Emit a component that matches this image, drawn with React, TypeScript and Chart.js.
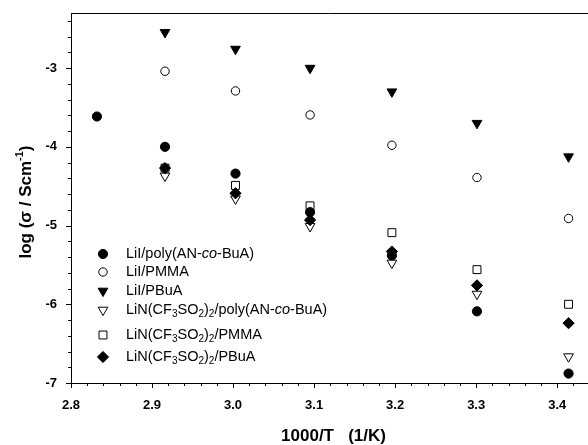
import React, { useEffect, useRef } from 'react';
import Chart from 'chart.js/auto';
import { drawPoint } from 'chart.js/helpers';

// 1000/T (1/K)
const invT = [2.832, 2.916, 3.003, 3.095, 3.196, 3.301, 3.414];
// log(sigma / S cm^-1)
const liIPolyAN = [-3.615, -4.0, -4.34, -4.83, -5.38, -6.09, -6.88];
const liIPMMA = [null, -3.04, -3.29, -3.595, -3.98, -4.39, -4.91];
const liIPBuA = [null, -2.546, -2.758, -3.0, -3.3, -3.7, -4.125];
const liNPolyAN = [null, -4.37, -4.66, -5.01, -5.475, -5.87, -6.665];
const liNPMMA = [null, -4.27, -4.49, -4.75, -5.09, -5.56, -6.0];
const liNPBuA = [null, -4.27, -4.59, -4.93, -5.33, -5.76, -6.24];

const seriesNames = [
  'LiI/poly(AN-*co*-BuA)',
  'LiI/PMMA',
  'LiI/PBuA',
  'LiN(CF_3SO_2)_2/poly(AN-*co*-BuA)',
  'LiN(CF_3SO_2)_2/PMMA',
  'LiN(CF_3SO_2)_2/PBuA',
];
const seriesValues = [liIPolyAN, liIPMMA, liIPBuA, liNPolyAN, liNPMMA, liNPBuA];

const xTickValues = [2.8, 2.9, 3.0, 3.1, 3.2, 3.3, 3.4];
const yTickValues = [-7, -6, -5, -4, -3];
const xTitle = '1000/T   (1/K)';
const yTitleMain = 'log (σ / Scm';
const yTitleSup = '-1';
const yTitleEnd = ')';

const markerStyles = [
  { pointStyle: 'circle', rotation: 0, radius: 4.6, filled: true },
  { pointStyle: 'circle', rotation: 0, radius: 4.2, filled: false },
  { pointStyle: 'triangle', rotation: 180, radius: 5.6, filled: true },
  { pointStyle: 'triangle', rotation: 180, radius: 5.6, filled: false },
  { pointStyle: 'rect', rotation: 0, radius: 5.6, filled: false },
  { pointStyle: 'rectRot', rotation: 0, radius: 5.6, filled: true },
];

const FONT = 'Arial, "Liberation Sans", sans-serif';

function parseRich(s: string) {
  const segs: { t: string; sub: boolean; it: boolean }[] = [];
  let it = false;
  let buf = '';
  const flush = () => {
    if (buf) segs.push({ t: buf, sub: false, it });
    buf = '';
  };
  for (let i = 0; i < s.length; i++) {
    const c = s[i];
    if (c === '*') {
      flush();
      it = !it;
    } else if (c === '_') {
      flush();
      segs.push({ t: s[i + 1], sub: true, it });
      i++;
    } else buf += c;
  }
  flush();
  return segs;
}

const framePlugin = {
  id: 'frame',
  afterDraw(chart: any) {
    const { ctx, chartArea: a, scales } = chart;
    const x = scales.x;
    const y = scales.y;
    ctx.save();
    ctx.strokeStyle = '#000';
    ctx.lineWidth = 1;
    ctx.beginPath();
    ctx.moveTo(a.left, a.top + 0.5);
    ctx.lineTo(a.right, a.top + 0.5);
    // x ticks
    for (let i = 0; ; i++) {
      const v = x.min + i * 0.02;
      if (v > x.max + 1e-9) break;
      const px = Math.round(x.getPixelForValue(v)) + 0.5;
      const major = Math.abs(v * 10 - Math.round(v * 10)) < 1e-6;
      ctx.moveTo(px, a.bottom);
      ctx.lineTo(px, a.bottom + (major ? 5 : 3));
    }
    // y ticks
    for (let i = 0; ; i++) {
      const v = y.min + i * 0.2;
      if (v > y.max + 1e-9) break;
      const py = Math.round(y.getPixelForValue(v)) + 0.5;
      const major = Math.abs(v - Math.round(v)) < 1e-6;
      ctx.moveTo(a.left, py);
      ctx.lineTo(a.left - (major ? 5 : 3), py);
    }
    ctx.stroke();

    // axis titles
    ctx.fillStyle = '#000';
    ctx.textBaseline = 'middle';
    ctx.font = `bold 17px ${FONT}`;
    ctx.textAlign = 'center';
    ctx.fillText(xTitle, (a.left + a.right) / 2 + 4, 436);

    ctx.save();
    ctx.translate(26, 202);
    ctx.rotate(-Math.PI / 2);
    ctx.textAlign = 'left';
    ctx.font = `bold 17px ${FONT}`;
    const w1 = ctx.measureText(yTitleMain).width;
    const w3 = ctx.measureText(yTitleEnd).width;
    ctx.font = `bold 11px ${FONT}`;
    const w2 = ctx.measureText(yTitleSup).width;
    let sx = -(w1 + w2 + w3) / 2;
    ctx.font = `bold 17px ${FONT}`;
    ctx.fillText(yTitleMain, sx, 0);
    sx += w1;
    ctx.font = `bold 11px ${FONT}`;
    ctx.fillText(yTitleSup, sx, -6);
    sx += w2;
    ctx.font = `bold 17px ${FONT}`;
    ctx.fillText(yTitleEnd, sx, 0);
    ctx.restore();

    // legend
    const rowY = [254, 272, 291, 310, 335, 357];
    const markerX = 103;
    const textX = 126;
    seriesNames.forEach((name, i) => {
      const m = markerStyles[i];
      const yy = rowY[i];
      ctx.fillStyle = m.filled ? '#000' : '#fff';
      ctx.strokeStyle = '#000';
      ctx.lineWidth = 1;
      drawPoint(ctx, { pointStyle: m.pointStyle, rotation: m.rotation, radius: m.radius, borderWidth: 1 }, markerX, yy);
      let tx = textX;
      ctx.fillStyle = '#000';
      ctx.textAlign = 'left';
      ctx.textBaseline = 'middle';
      for (const seg of parseRich(name)) {
        const size = seg.sub ? 10 : 14.5;
        ctx.font = `${seg.it ? 'italic ' : ''}${size}px ${FONT}`;
        ctx.fillText(seg.t, tx, yy + (seg.sub ? 4 : 0));
        tx += ctx.measureText(seg.t).width;
      }
    });
    ctx.restore();
  },
};

export default function App() {
  const ref = useRef<HTMLCanvasElement | null>(null);
  useEffect(() => {
    if (!ref.current) return;
    const datasets = seriesValues.map((vals, i) => {
      const m = markerStyles[i];
      return {
        label: seriesNames[i],
        data: invT
          .map((xv, j) => ({ x: xv, y: vals[j] }))
          .filter((p) => p.y !== null),
        pointStyle: m.pointStyle,
        pointRotation: m.rotation,
        pointRadius: m.radius,
        pointHoverRadius: m.radius,
        pointBorderWidth: 1,
        pointBackgroundColor: m.filled ? '#000' : 'rgba(255,255,255,0)',
        pointBorderColor: '#000',
        backgroundColor: '#000',
        borderColor: '#000',
        showLine: false,
        order: m.filled ? 0 : 1,
      };
    });
    const chart = new Chart(ref.current, {
      type: 'scatter',
      data: { datasets: datasets as any },
      options: {
        animation: false,
        responsive: false,
        layout: { autoPadding: false, padding: { top: 13, right: 0, left: 0, bottom: 0 } },
        plugins: { legend: { display: false }, tooltip: { enabled: false } },
        scales: {
          x: {
            type: 'linear',
            min: 2.8,
            max: 3.438,
            grid: { display: false, drawTicks: false },
            border: { display: true, color: '#000', width: 1 },
            afterFit: (s: any) => {
              s.height = 62;
              s.paddingLeft = 0;
              s.paddingRight = 0;
            },
            afterBuildTicks: (s: any) => {
              s.ticks = xTickValues.map((v) => ({ value: v }));
            },
            ticks: {
              color: '#000',
              font: { family: FONT, size: 13, weight: 'bold' },
              padding: 15,
              maxRotation: 0,
              autoSkip: false,
              callback: (v: any) => Number(v).toFixed(1),
            },
          },
          y: {
            type: 'linear',
            min: -7,
            max: -2.3,
            grid: { display: false, drawTicks: false },
            border: { display: true, color: '#000', width: 1 },
            afterFit: (s: any) => {
              s.width = 71;
              s.paddingTop = 0;
              s.paddingBottom = 0;
            },
            afterBuildTicks: (s: any) => {
              s.ticks = yTickValues.map((v) => ({ value: v }));
            },
            ticks: {
              color: '#000',
              font: { family: FONT, size: 13, weight: 'bold' },
              padding: 14,
              autoSkip: false,
              callback: (v: any) => String(v),
            },
          },
        },
      },
      plugins: [framePlugin],
    });
    return () => chart.destroy();
  }, []);
  return (
    <div style={{ position: 'fixed', left: 0, top: 0, width: 588, height: 445, background: '#fff' }}>
      <canvas ref={ref} width={588} height={445} style={{ width: 588, height: 445 }} />
    </div>
  );
}
